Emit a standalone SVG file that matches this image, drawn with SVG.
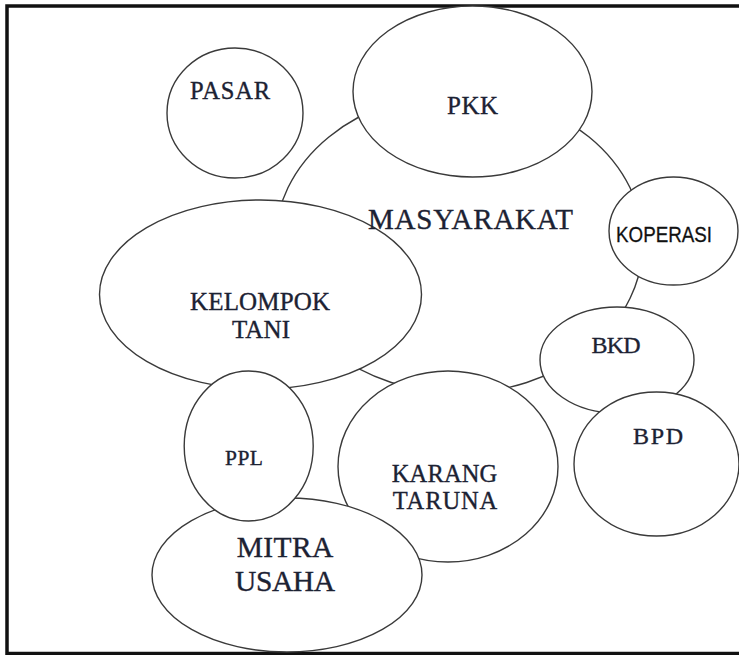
<svg xmlns="http://www.w3.org/2000/svg" width="739" height="655" viewBox="0 0 739 655">
<style>
.n{fill:#fff;stroke:#3a3a3a;stroke-width:1.4}
.t{font-family:"Liberation Serif","Times New Roman",serif;fill:#1c2233;stroke:#1c2233;stroke-width:0.35;text-anchor:middle}
.s{font-family:"Liberation Sans",Arial,sans-serif;fill:#111;stroke:#111;stroke-width:0.3;text-anchor:middle}
</style>
<rect x="0" y="0" width="739" height="655" fill="#fff"/>
<rect id="frame" x="7" y="6" width="740" height="647.5" fill="none" stroke="#111" stroke-width="3.5"/>
<g id="connectors"/>
<g id="masyarakat"><ellipse class="n" cx="459" cy="243" rx="184" ry="150"/></g>
<g id="pasar"><ellipse class="n" cx="235" cy="113" rx="68" ry="65"/><text class="t" x="230" y="99" font-size="24.5" textLength="80">PASAR</text></g>
<g id="pkk"><ellipse class="n" cx="472.5" cy="91.5" rx="119.5" ry="85.5"/><text class="t" x="472.5" y="114" font-size="25" textLength="51">PKK</text></g>
<g id="koperasi"><ellipse class="n" cx="673.5" cy="231" rx="64.5" ry="54"/><text class="s" x="664" y="241.5" font-size="22" textLength="96" lengthAdjust="spacingAndGlyphs">KOPERASI</text></g>
<g id="bkd"><ellipse class="n" cx="617" cy="360" rx="77" ry="53"/><text class="t" x="616" y="353" font-size="24" textLength="49">BKD</text></g>
<g id="bpd"><ellipse class="n" cx="656.5" cy="464" rx="82.5" ry="72"/><text class="t" x="658" y="444" font-size="24" textLength="50">BPD</text></g>
<g id="kelompok-tani"><ellipse class="n" cx="260.5" cy="294.5" rx="161" ry="94.5"/><text class="t" x="260" y="310" font-size="25" textLength="140">KELOMPOK</text><text class="t" x="261" y="338" font-size="25" textLength="58">TANI</text></g>
<g id="karang-taruna"><ellipse class="n" cx="448" cy="466.5" rx="110" ry="95.5"/><text class="t" x="444.5" y="482" font-size="24.5" textLength="105.6">KARANG</text><text class="t" x="445" y="509" font-size="24.5" textLength="104.6">TARUNA</text></g>
<g id="mitra-usaha"><ellipse class="n" cx="287" cy="575" rx="135" ry="77"/><text class="t" x="285" y="557" font-size="29.5" textLength="96.7">MITRA</text><text class="t" x="285" y="591" font-size="29.5" textLength="100">USAHA</text></g>
<g id="ppl"><ellipse class="n" cx="248.7" cy="446" rx="64.5" ry="75"/><text class="t" x="244" y="465" font-size="21.5" textLength="38">PPL</text></g>
<g id="masyarakat-label"><text class="t" x="470.5" y="229" font-size="29" textLength="205">MASYARAKAT</text></g>
</svg>
